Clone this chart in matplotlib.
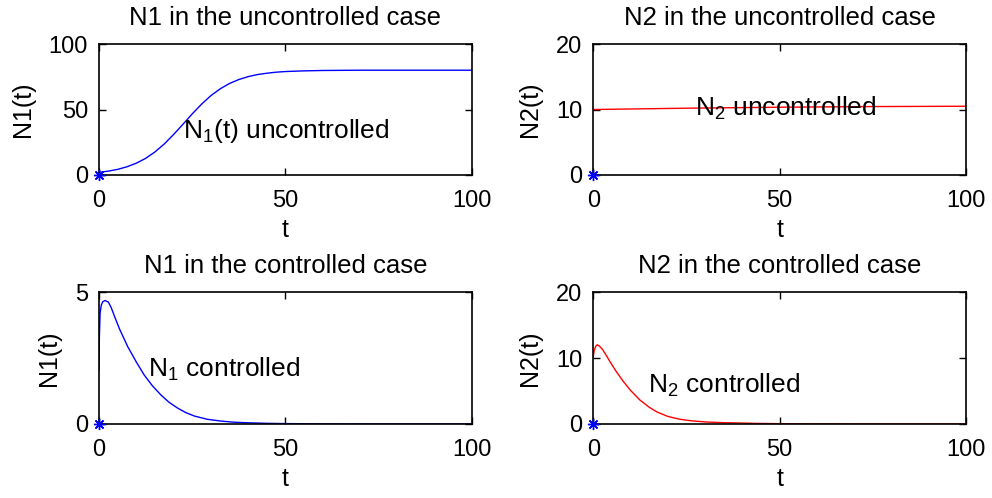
import matplotlib
matplotlib.use("Agg")
import matplotlib.pyplot as plt

plt.rcParams["font.family"] = ["Liberation Sans", "DejaVu Sans"]
plt.rcParams["mathtext.fontset"] = "custom"
plt.rcParams["mathtext.rm"] = "Liberation Sans"
plt.rcParams["mathtext.it"] = "Liberation Sans"
plt.rcParams["mathtext.default"] = "regular"

# values
t_n1_unc = [0, 2.5, 5, 7.5, 10, 12.5, 15, 17.5, 20, 22.5, 25, 27.5, 30, 32.5,
            35, 37.5, 40, 42.5, 45, 47.5, 50, 55, 60, 70, 80, 100]
n1_unc = [2.0, 2.95, 4.3, 6.3, 9.0, 12.7, 17.6, 23.7, 30.9, 38.7, 46.7, 54.1,
          60.6, 65.8, 69.9, 72.9, 75.1, 76.7, 77.7, 78.5, 79.0, 79.5, 79.8,
          80.0, 80.0, 80.0]

t_n2_unc = [0, 25, 50, 75, 100]
n2_unc = [10.0, 10.2, 10.35, 10.45, 10.5]

t_n1_ctl = [0, 0.1, 0.3, 0.6, 1.0, 1.6, 2.5, 3.3, 4.1, 5.5, 7.7, 10, 12.1,
            14.3, 16.6, 18.8, 21.1, 23.3, 25.6, 29, 32.7, 36, 39, 45, 50,
            60, 70, 80, 100]
n1_ctl = [2.05, 3.3, 4.2, 4.5, 4.63, 4.68, 4.62, 4.4, 4.1, 3.6, 2.93, 2.35,
          1.86, 1.45, 1.1, 0.82, 0.6, 0.43, 0.3, 0.18, 0.11, 0.07, 0.05,
          0.025, 0.015, 0.005, 0.002, 0.0, 0.0]

t_n2_ctl = [0, 0.3, 0.7, 1.07, 1.6, 2.5, 3.5, 4.5, 6, 8, 10, 12.5, 15, 17,
            20, 23.2, 26.5, 30.4, 35, 39.3, 45, 50, 60, 70, 80, 100]
n2_ctl = [10.2, 11.2, 11.8, 12.0, 11.85, 11.3, 10.4, 9.45, 8.1, 6.5, 5.1,
          3.65, 2.55, 1.85, 1.15, 0.72, 0.47, 0.3, 0.2, 0.15, 0.08, 0.05,
          0.02, 0.01, 0.0, 0.0]

panels = [
    dict(t=t_n1_unc, y=n1_unc, color="b", ylim=(0, 100), yticks=[0, 50, 100],
         title="N1 in the uncontrolled case", ylabel="N1(t)",
         text="N$_1$(t) uncontrolled", tx=22.5, ty=28,
         pos=[0.0998, 0.6486, 0.376, 0.263]),
    dict(t=t_n2_unc, y=n2_unc, color="r", ylim=(0, 20), yticks=[0, 10, 20],
         title="N2 in the uncontrolled case", ylabel="N2(t)",
         text="N$_2$ uncontrolled", tx=27.3, ty=9.05,
         pos=[0.598, 0.6486, 0.3757, 0.263]),
    dict(t=t_n1_ctl, y=n1_ctl, color="b", ylim=(0, 5), yticks=[0, 5],
         title="N1 in the controlled case", ylabel="N1(t)",
         text="N$_1$ controlled", tx=13.1, ty=1.8,
         pos=[0.0998, 0.1486, 0.376, 0.265]),
    dict(t=t_n2_ctl, y=n2_ctl, color="r", ylim=(0, 20), yticks=[0, 10, 20],
         title="N2 in the controlled case", ylabel="N2(t)",
         text="N$_2$ controlled", tx=14.7, ty=4.67,
         pos=[0.598, 0.1486, 0.3757, 0.265]),
]

fs = 17

fig = plt.figure(figsize=(9.92, 4.98), dpi=100)
for p in panels:
    ax = fig.add_axes(p["pos"])
    ax.plot(p["t"], p["y"], color=p["color"], lw=1.0)
    # initial point marker
    ax.plot([0], [0], marker=(8, 2, 0), color="b", ms=8, mew=1.0,
            clip_on=False, zorder=5)
    ax.set_xlim(0, 100)
    ax.set_ylim(*p["ylim"])
    ax.set_xticks([0, 50, 100])
    ax.set_yticks(p["yticks"])
    ax.tick_params(direction="in", top=True, right=True, length=5, width=1,
                   labelsize=fs)
    ax.tick_params(axis="x", pad=11)
    ax.tick_params(axis="y", pad=8)
    for s in ax.spines.values():
        s.set_linewidth(1.2)
    ax.set_title(p["title"], fontsize=fs + 1.5, pad=14)
    ax.set_xlabel("t", fontsize=fs + 1, labelpad=4)
    ax.set_ylabel(p["ylabel"], fontsize=fs + 1, labelpad=10)
    ax.text(p["tx"], p["ty"], p["text"], fontsize=fs + 2, va="baseline",
            ha="left")

fig.savefig("out.png", dpi=100)
